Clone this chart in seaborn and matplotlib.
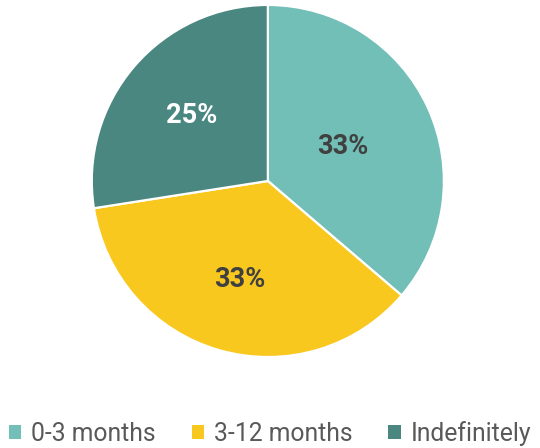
import matplotlib
matplotlib.use("Agg")
import matplotlib.pyplot as plt
from matplotlib.patches import Patch
import numpy as np
import seaborn as sns

categories = ["0-3 months", "3-12 months", "Indefinitely"]
values = [33, 33, 25]
colors = ["#72BFB7", "#F9C81F", "#4A8780"]
label_colors = ["#404040", "#404040", "#FFFFFF"]
label_dist = [0.47, 0.58, 0.57]

sns.set_theme(style="white")
plt.rcParams["font.family"] = ["Roboto", "DejaVu Sans"]

fig = plt.figure(figsize=(5.4, 4.48), dpi=100)
ax = fig.add_axes([0.170, 0.203, 0.652, 0.786])

wedges, texts, autotexts = ax.pie(
    values, colors=colors, startangle=90, counterclock=False,
    autopct=lambda p: f"{p * sum(values) / 100:.0f}%", pctdistance=0.55,
    wedgeprops=dict(edgecolor="white", linewidth=1.6),
    textprops=dict(fontsize=19.5, fontweight="bold"))

for t, c, d in zip(autotexts, label_colors, label_dist):
    x, y = t.get_position()
    r = np.hypot(x, y)
    t.set_position((x / r * d, y / r * d))
    t.set_color(c)

ax.set_xlim(-1, 1)
ax.set_ylim(-1, 1)
ax.set_aspect("equal")
ax.axis("off")

handles = [Patch(facecolor=c, edgecolor="none") for c in colors]
fig.legend(handles, categories, loc="lower center", ncol=3, frameon=False,
           fontsize=17.8, labelcolor="#595959", handlelength=0.5, handleheight=0.5,
           handletextpad=0.4, columnspacing=1.45, bbox_to_anchor=(0.5, -0.045))

fig.savefig("out.png", dpi=100)
